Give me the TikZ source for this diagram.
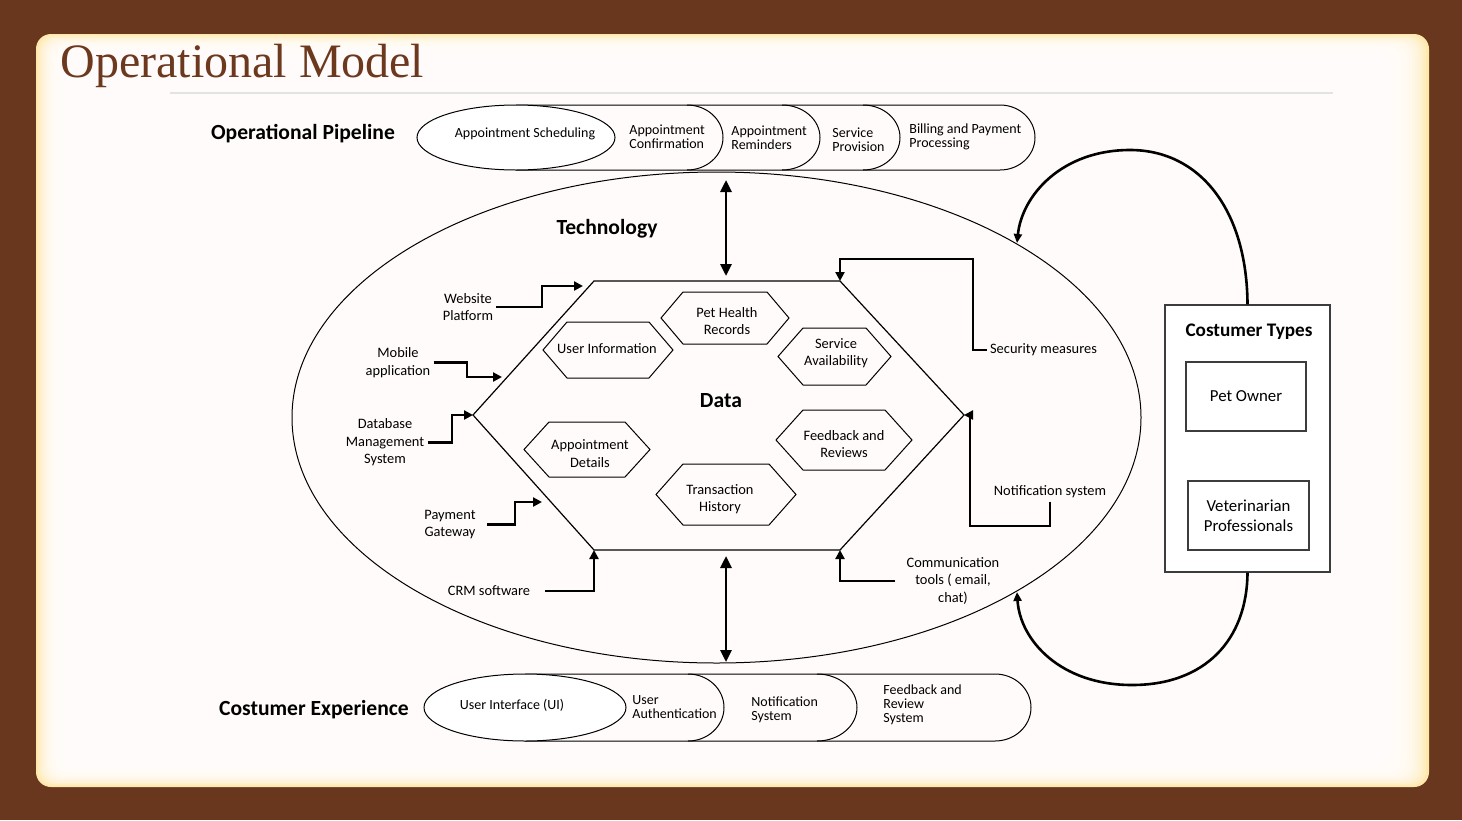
\documentclass[tikz,border=0pt]{standalone}
\usepackage{fontspec}
\setmainfont{Carlito}
\newfontfamily\titlefont{Liberation Serif}
\usetikzlibrary{arrows.meta,calc}
\definecolor{bgbrown}{RGB}{104,55,29}
\definecolor{cream}{RGB}{255,232,172}
\definecolor{titlebrown}{RGB}{108,56,30}
\definecolor{boxgray}{RGB}{60,60,60}
\newcommand\hexnode[9]{%
  \node[hexlbl] (#1) at (#8,#9) {#7};
  \draw[hexline] ({#2-#4},#3) -- ({#2-#4+#6},{#3-#5}) -- ({#2+#4-#6},{#3-#5}) -- ({#2+#4},#3) -- ({#2+#4-#6},{#3+#5}) -- ({#2-#4+#6},{#3+#5}) -- cycle;}
\begin{document}
\begin{tikzpicture}[x=0.5pt,y=-0.5pt,
  lbl/.style={font=\fontsize{7.2}{8.75}\selectfont, align=center, inner sep=1.5pt},
  hexlbl/.style={font=\fontsize{7.2}{8.6}\selectfont, align=center, inner sep=0pt},
  pip/.style={font=\fontsize{7}{7}\selectfont, align=left, anchor=west, inner sep=0pt},
  pipc/.style={font=\fontsize{7}{7}\selectfont, align=center, inner sep=0pt},
  head/.style={font=\bfseries\fontsize{10.8}{13}\selectfont, inner sep=0pt},
  conn/.style={line width=1.2pt, -{Triangle[length=4.5pt,width=4.5pt]}},
  hexline/.style={line width=0.5pt},
  bigarrow/.style={line width=1.4pt, {Triangle[length=6pt,width=5.5pt]}-{Triangle[length=6pt,width=5.5pt]}},
  curvearrow/.style={line width=1.3pt, -{Triangle[length=4.5pt,width=4pt]}},
  thinline/.style={line width=0.5pt},
  ctbox/.style={draw=boxgray, line width=0.6pt, fill=white, inner sep=0pt, align=center}
]
\useasboundingbox (0,0) rectangle (1462,820);
% background and panel
\fill[bgbrown] (0,0) rectangle (1462,820);
\fill[cream, rounded corners=7.5pt] (36,34) rectangle (1429,787);
\foreach \i in {1,...,14} {
  \fill[white, opacity=0.22, rounded corners=7.5pt] ({36+1.9*\i},{34+1.2*\i}) rectangle ({1429-2.8*\i},{787-1.4*\i});
}
\node[anchor=base west, text=titlebrown, font=\titlefont\fontsize{24}{24}\selectfont, inner sep=0pt] (title) at (60,77) {Operational Model};
\draw[gray!22, line width=1.2pt] (170,93) -- (1333,93);

% ---------- Operational pipeline ----------
\node[head] (oppipe) at (303,134) {Operational Pipeline};
\draw[thinline] (516,105) -- (1000,105) arc[start angle=-90,end angle=90,x radius=35,y radius=32.5] -- (516,170);
\draw[thinline] (863,105) arc[start angle=-90,end angle=90,x radius=37,y radius=32.5];
\draw[thinline] (782,105) arc[start angle=-90,end angle=90,x radius=38,y radius=32.5];
\draw[thinline] (687,105) arc[start angle=-90,end angle=90,x radius=36,y radius=32.5];
\draw[thinline, fill=white] (516,137.5) ellipse[x radius=99,y radius=32.5];
\node[pipc] (p1) at (525,134) {Appointment Scheduling};
\node[pip] (p2) at (629,136.5) {Appointment\\Confirmation};
\node[pip] (p3) at (731,137.5) {Appointment\\Reminders};
\node[pip] (p4) at (832,139.5) {Service\\Provision};
\node[pip] (p5) at (909,136.5) {Billing and Payment\\Processing};

% ---------- Technology ellipse ----------
\draw[thinline] (716.5,417.5) ellipse[x radius=424.5,y radius=245.5];
\node[head] (tech) at (607,229) {Technology};

% ---------- Data hexagon ----------
\coordinate (hTL) at (594,281);
\coordinate (hTR) at (840,281);
\coordinate (hR) at (964,415);
\coordinate (hBR) at (840,550);
\coordinate (hBL) at (594,550);
\coordinate (hL) at (473,415);
\draw[line width=0.6pt] (hTL) -- (hTR) -- (hR) -- (hBR) -- (hBL) -- (hL) -- cycle;
\node[head, font=\bfseries\fontsize{10.8}{13}\selectfont] (data) at (721,401) {Data};

\hexnode{ph}{725}{318}{64}{26}{22}{Pet Health\\Records}{727}{321}
\hexnode{ui}{608}{350}{65}{28}{24}{User Information}{607}{348.5}
\hexnode{sa}{834.5}{356.5}{56.5}{28.5}{25}{Service\\Availability}{836}{353.5}
\hexnode{ad}{587}{449.5}{63}{27.5}{25}{Appointment\\Details}{590}{453.5}
\hexnode{fr}{844}{440}{68}{30}{27}{Feedback and\\Reviews}{844}{444}
\hexnode{th}{726}{494.5}{70}{30.5}{27}{Transaction\\History}{720}{499}

% ---------- Technology labels and connectors ----------
\node[lbl] (web) at (468,307) {Website\\Platform};
\node[lbl] (mob) at (398,362.5) {Mobile\\application};
\node[lbl] (db) at (385,442.5) {Database\\Management\\System};
\node[lbl] (pay) at (450,524.5) {Payment\\Gateway};
\node[lbl] (crm) at (489,591) {CRM software};
\node[lbl] (sec) at (1043.5,350) {Security measures};
\node[lbl] (notif) at (1050,492) {Notification system};
\node[lbl] (comm) at (953,581) {Communication\\tools ( email,\\chat)};

\coordinate (wtip) at (583,286);
\coordinate (mtip) at (502,377);
\coordinate (ptip) at (542,502);
\draw[conn] (web.east) -| (542,286) -- (wtip);
\draw[conn] (mob.east) -| (467,377) -- (mtip);
\draw[conn] (db.east) -| (452,415) -- (hL);
\draw[conn] ([xshift=4pt]pay.east) -| (515,502) -- (ptip);
\draw[conn] ([xshift=6pt]crm.east) -| (hBL);
\draw[conn] (sec.west) -| (973,259) -| (hTR);
\draw[conn] (notif.south) |- (970,526) |- (hR);
\draw[conn] ([xshift=-4pt]comm.west) -| (hBR);

% ---------- vertical double arrows ----------
\coordinate (topA) at (726,180);
\coordinate (topB) at (726,276);
\coordinate (botA) at (726,556);
\coordinate (botB) at (726,662);
\draw[bigarrow] (topA) -- (topB);
\draw[bigarrow] (botA) -- (botB);

% ---------- Costumer experience ----------
\node[head] (cexp) at (314,710) {Costumer Experience};
\draw[thinline] (525,674) -- (995,674) arc[start angle=-90,end angle=90,x radius=36,y radius=33.5] -- (525,741);
\draw[thinline] (817,674) arc[start angle=-90,end angle=90,x radius=40,y radius=33.5];
\draw[thinline] (688,674) arc[start angle=-90,end angle=90,x radius=36,y radius=33.5];
\draw[thinline, fill=white] (525,707.5) ellipse[x radius=101,y radius=33.5];
\node[pipc] (e1) at (512,705) {User Interface (UI)};
\node[pip] (e2) at (632,707) {User\\Authentication};
\node[pip] (e3) at (751,710) {Notification\\System};
\node[pip] (e4) at (883,705) {Feedback and\\Review\\System};

% ---------- Costumer types ----------
\node[ctbox, minimum width=82.5pt, minimum height=133.5pt] (ct) at (1247.5,438.5) {};
\node[head, font=\bfseries\fontsize{9.6}{12}\selectfont] (cttitle) at (1249,332) {Costumer Types};
\node[ctbox, minimum width=60pt, minimum height=34.5pt, font=\fontsize{8.4}{10}\selectfont] (pet) at (1246,396.5) {Pet Owner};
\node[ctbox, minimum width=60.5pt, minimum height=34.5pt, font=\fontsize{8.4}{10}\selectfont] (vet) at (1248.5,515.5) {Veterinarian\\Professionals};

\coordinate (eTop) at (1017,243);
\coordinate (eBot) at (1017,592);
\draw[curvearrow] (ct.north) .. controls (1247,210) and (1200,150) .. (1130,150) .. controls (1062,150) and (1022,195) .. (eTop);
\draw[curvearrow] (ct.south) .. controls (1247,640) and (1205,685) .. (1132,685) .. controls (1060,685) and (1020,640) .. (eBot);
\end{tikzpicture}
\end{document}
